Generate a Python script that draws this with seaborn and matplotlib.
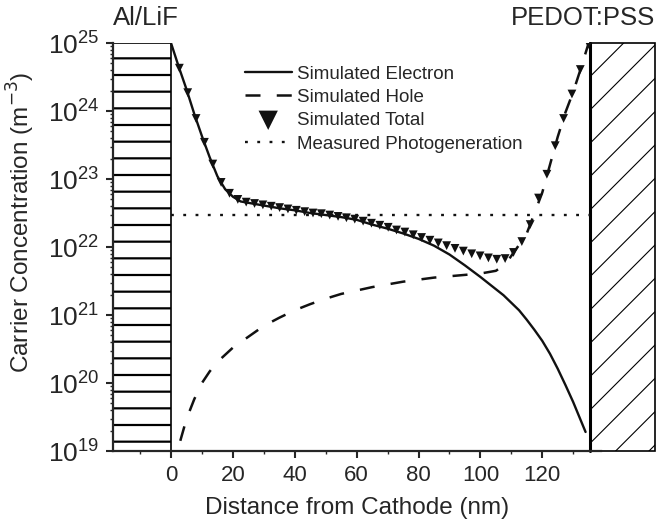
import numpy as np
import pandas as pd
import matplotlib
matplotlib.use("Agg")
import matplotlib.pyplot as plt
import seaborn as sns

# valores (expoentes log10 da concentração, m^-3)
x_eletron = [0, 2.5, 5, 7.5, 10, 12.5, 15, 17.5, 20, 22.5, 25, 30, 35, 40, 45, 50,
             55, 60, 65, 70, 75, 80, 85, 90, 95, 100, 102.5, 105, 107.5, 110, 112.5,
             115, 117.5, 120, 122.5, 125, 127.5, 130, 132, 134]
log_eletron = [25.0, 24.65, 24.32, 23.96, 23.63, 23.32, 23.04, 22.85, 22.74, 22.67,
               22.65, 22.61, 22.57, 22.54, 22.50, 22.47, 22.44, 22.40, 22.33, 22.27,
               22.20, 22.12, 22.02, 21.89, 21.73, 21.56, 21.47, 21.38, 21.29, 21.18,
               21.07, 20.93, 20.78, 20.62, 20.43, 20.21, 19.97, 19.72, 19.50, 19.28]

x_lacuna = [3, 5, 7.5, 10, 12.5, 15, 20, 25, 30, 35, 40, 45, 50, 55, 60, 65, 70, 75,
            80, 85, 90, 95, 100, 105, 108, 110, 112.5, 115, 117.5, 120, 122.5, 125,
            127.5, 130, 132.5, 135]
log_lacuna = [19.15, 19.47, 19.76, 20.0, 20.17, 20.31, 20.52, 20.68, 20.84, 20.96,
              21.07, 21.16, 21.24, 21.31, 21.36, 21.41, 21.45, 21.49, 21.52, 21.55,
              21.57, 21.59, 21.61, 21.65, 21.74, 21.87, 22.03, 22.20, 22.50, 22.80,
              23.21, 23.62, 23.98, 24.28, 24.63, 25.0]

x_total = [2.7, 5.4, 8.1, 10.8, 13.5, 16.2, 18.9, 21.6, 24.3, 27.0, 29.7, 32.4, 35.1,
           37.8, 40.5, 43.2, 45.9, 48.6, 51.3, 54.0, 56.7, 59.4, 62.1, 64.8, 67.5,
           70.2, 72.9, 75.6, 78.3, 81.0, 83.7, 86.4, 89.1, 91.8, 94.5, 97.2, 99.9,
           102.6, 105.3, 108.0, 110.7, 113.4, 116.1, 118.8, 121.5, 124.2, 126.9,
           129.6, 132.3, 135.0]
log_total = [24.63, 24.27, 23.89, 23.54, 23.22, 22.95, 22.79, 22.70, 22.66, 22.64,
             22.62, 22.60, 22.58, 22.56, 22.54, 22.52, 22.50, 22.49, 22.47, 22.45,
             22.43, 22.41, 22.38, 22.35, 22.32, 22.29, 22.25, 22.22, 22.18, 22.14,
             22.10, 22.06, 22.02, 21.98, 21.94, 21.90, 21.87, 21.84, 21.82, 21.83,
             21.92, 22.08, 22.33, 22.72, 23.07, 23.49, 23.89, 24.25, 24.61, 24.98]

x_fotogeracao = [0, 135.4]
fotogeracao = 3.0e22

catodo = (-18.75, 0)       # Al/LiF
anodo = (135.4, 156.4)     # PEDOT:PSS

sns.set_style("ticks")
plt.rcParams['font.family'] = ['Liberation Sans', 'DejaVu Sans']
plt.rcParams['hatch.linewidth'] = 1.6

fig = plt.figure(figsize=(6.62, 5.24), dpi=100)
ax = fig.add_axes([0.1707, 0.1393, 0.7372, 0.7786])
ax.set_yscale('log')

# eletrodos
ax.axvspan(catodo[0], catodo[1], facecolor='white', edgecolor='black', hatch='-',
           lw=1.2, zorder=1)
pedot = ax.axvspan(anodo[0], anodo[1], facecolor='white', edgecolor='black', hatch='/',
                   lw=1.2, zorder=1, clip_on=False)
if hasattr(pedot, 'set_hatch_linewidth'):
    pedot.set_hatch_linewidth(0.8)
ax.plot([anodo[0], anodo[0]], [0, 1], transform=ax.get_xaxis_transform(),
        color='black', lw=2.2, clip_on=False, zorder=2)

df_e = pd.DataFrame({'x': x_eletron, 'y': 10 ** np.array(log_eletron)})
df_h = pd.DataFrame({'x': x_lacuna, 'y': 10 ** np.array(log_lacuna)})
df_t = pd.DataFrame({'x': x_total, 'y': 10 ** np.array(log_total)})
df_f = pd.DataFrame({'x': x_fotogeracao, 'y': [fotogeracao] * len(x_fotogeracao)})

sns.lineplot(data=df_e, x='x', y='y', ax=ax, color='#111111', lw=1.7,
             label='Simulated Electron', zorder=3)
sns.lineplot(data=df_h, x='x', y='y', ax=ax, color='#111111', lw=1.8,
             linestyle=(0, (6.0, 6.5)), label='Simulated Hole', zorder=3)
sns.scatterplot(data=df_t, x='x', y='y', ax=ax, color='#111111', marker='v', s=40,
                edgecolor='none', label='Simulated Total', zorder=4)
sns.lineplot(data=df_f, x='x', y='y', ax=ax, color='#111111', lw=1.7,
             linestyle=(0, (1.2, 4.0)), label='Measured Photogeneration', zorder=3)

ax.set_xlim(-18.75, 139)
ax.set_ylim(1e19, 1e25)
ax.set_xticks([0, 20, 40, 60, 80, 100, 120])
ax.set_xticks(np.arange(-10, 139, 20), minor=True)
for s in ['top', 'right']:
    ax.spines[s].set_visible(False)
for s in ['left', 'bottom']:
    ax.spines[s].set_linewidth(1.6)
    ax.spines[s].set_zorder(5)
ax.tick_params(which='major', direction='out', length=5, width=1.5, pad=5)
ax.tick_params(axis='x', which='major', labelsize=16)
ax.tick_params(axis='y', which='major', labelsize=19, pad=5)
ax.tick_params(which='minor', direction='out', length=2.5, width=1.0)

ax.set_xlabel('Distance from Cathode (nm)', fontsize=17.5)
ax.set_ylabel('Carrier Concentration (m$^{-3}$)', fontsize=17.5)
ax.xaxis.set_label_coords(0.5, -0.112)
ax.yaxis.set_label_coords(-0.155, 0.561)

ax.text(0.0, 1.061, 'Al/LiF', transform=ax.transAxes, ha='left', va='center', fontsize=18.5)
ax.text(1.111, 1.061, 'PEDOT:PSS', transform=ax.transAxes, ha='right', va='center',
        fontsize=18.5)

h, l = ax.get_legend_handles_labels()
ax.legend(h, l, loc='upper left', bbox_to_anchor=(0.27, 0.945), frameon=False,
          fontsize=13.5, handlelength=2.5, handletextpad=0.3, labelspacing=0.33,
          borderpad=0, borderaxespad=0, markerscale=2.2)

fig.savefig('out.png', dpi=100)
